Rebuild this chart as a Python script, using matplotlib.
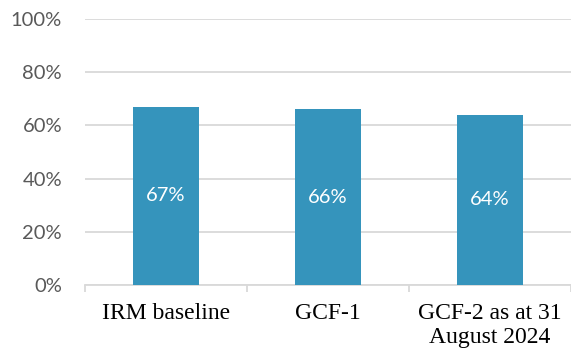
import matplotlib
matplotlib.use("Agg")
import matplotlib.pyplot as plt
from matplotlib.ticker import FixedLocator, PercentFormatter

categories = ["IRM baseline", "GCF-1", "GCF-2 as at 31\nAugust 2024"]
shares = [0.67, 0.66, 0.64]
yticks = [0, 0.2, 0.4, 0.6, 0.8, 1.0]

bar_color = "#3594bc"
grid_color = "#d9d9d9"

fig = plt.figure(figsize=(5.71, 3.56), dpi=100)
ax = fig.add_axes([0.1489, 0.1994, 0.8511, 0.7472])

x = range(len(categories))
bars = ax.bar(x, shares, width=0.405, color=bar_color, zorder=3)

for b, v in zip(bars, shares):
    ax.text(b.get_x() + b.get_width() / 2, v / 2, f"{v:.0%}",
            ha="center", va="center", color="white",
            family="Lato", fontsize=14.5, zorder=4)

ax.set_xlim(-0.5, len(categories) - 0.5)
ax.set_ylim(0, 1.0)
ax.set_yticks(yticks)
ax.yaxis.set_major_formatter(PercentFormatter(1.0, decimals=0))
ax.yaxis.grid(True, color=grid_color, linewidth=1.3, zorder=0)
ax.tick_params(axis="y", length=0, pad=16.5, labelsize=14.5, labelcolor="#595959")
for lbl in ax.get_yticklabels():
    lbl.set_family("Lato")

ax.set_xticks(list(x))
ax.set_xticklabels(categories, family="Liberation Serif", fontsize=17,
                   linespacing=1.2)
ax.tick_params(axis="x", which="major", length=0, pad=12.7)
ax.xaxis.set_minor_locator(FixedLocator([i - 0.5 for i in range(len(categories) + 1)]))
ax.tick_params(axis="x", which="minor", length=5, width=1.3, color=grid_color)

for side in ["top", "right", "left"]:
    ax.spines[side].set_visible(False)
ax.spines["bottom"].set_color(grid_color)
ax.spines["bottom"].set_linewidth(1.3)

fig.savefig("out.png", dpi=100)
